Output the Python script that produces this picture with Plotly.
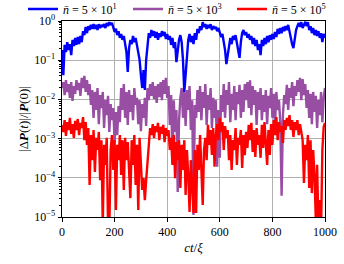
import numpy as np
import plotly.graph_objects as go

# sample times ct/xi (every 5 units, 0..1000)
t = np.linspace(0, 1000, 201)

# log10 of |dP(t)|/|P(0)|
blue_log10 = [-0.74,-1.38,-0.61,-0.79,-0.54,-0.74,-0.59,-0.87,-0.48,-0.64,
-0.43,-0.61,-0.41,-0.59,-0.38,-0.54,-0.26,-0.36,-0.15,-0.31,
-0.13,-0.23,-0.10,-0.20,-0.08,-0.20,-0.10,-0.23,-0.08,-0.18,
-0.10,-0.15,-0.08,-0.18,-0.05,-0.13,-0.03,-0.10,-0.05,-0.18,
-0.28,-0.20,-0.36,-0.26,-0.43,-0.33,-0.48,-0.38,-0.54,-0.79,
-1.30,-0.69,-0.48,-0.59,-0.38,-0.54,-0.43,-0.64,-0.74,-0.99,
-1.38,-1.71,-1.25,-1.76,-0.99,-0.61,-0.31,-0.43,-0.23,-0.38,
-0.26,-0.43,-0.28,-0.48,-0.31,-0.41,-0.26,-0.38,-0.28,-0.46,
-0.33,-0.48,-0.38,-0.61,-0.43,-0.69,-0.54,-1.05,-0.74,-0.48,
-0.36,-0.54,-0.99,-1.81,-1.38,-0.87,-0.48,-0.33,-0.54,-0.38,
-0.59,-0.31,-0.48,-0.20,-0.31,-0.13,-0.23,-0.03,-0.15,-0.08,
-0.20,-0.10,-0.18,-0.08,-0.23,-0.13,-0.20,-0.15,-0.26,-0.18,
-0.31,-0.41,-0.33,-0.54,-0.74,-1.10,-0.87,-0.61,-0.43,-0.59,
-0.38,-0.48,-0.36,-0.56,-0.74,-0.94,-0.54,-0.31,-0.23,-0.36,
-0.28,-0.43,-0.33,-0.48,-0.38,-0.59,-0.43,-0.64,-0.48,-0.74,
-0.59,-0.87,-0.48,-0.64,-0.43,-0.59,-0.38,-0.54,-0.36,-0.48,
-0.33,-0.46,-0.28,-0.41,-0.20,-0.33,-0.18,-0.31,-0.15,-0.26,
-0.13,-0.23,-0.10,-0.28,-0.43,-0.59,-0.69,-0.43,-0.23,-0.13,
-0.05,-0.15,-0.03,-0.18,-0.08,-0.02,-0.13,-0.03,-0.23,-0.13,
-0.31,-0.18,-0.36,-0.23,-0.38,-0.26,-0.43,-0.31,-0.54,-0.33,-0.43]

purple_log10 = [-1.71,-1.56,-1.89,-1.51,-1.81,-1.61,-1.96,-1.56,-2.04,-1.66,
-1.86,-1.51,-1.76,-1.58,-1.91,-1.45,-1.71,-1.40,-1.81,-1.51,
-1.89,-1.61,-2.14,-1.76,-2.47,-1.81,-2.27,-1.71,-2.63,-1.89,
-2.22,-1.81,-2.73,-2.02,-2.40,-1.91,-2.83,-2.12,-2.53,-2.22,
-3.09,-2.32,-2.91,-2.17,-2.58,-1.71,-2.27,-1.61,-2.47,-1.81,
-2.65,-1.76,-2.32,-1.89,-2.53,-1.71,-2.14,-1.96,-2.63,-2.02,
-2.81,-2.12,-2.47,-1.96,-2.68,-1.71,-2.02,-1.61,-1.91,-1.56,
-1.99,-1.66,-2.09,-1.61,-1.94,-1.56,-2.02,-1.51,-1.86,-1.45,
-1.96,-1.66,-2.65,-1.89,-3.62,-2.02,-2.83,-2.27,-4.36,-2.53,
-1.96,-1.71,-2.47,-1.81,-2.68,-1.76,-2.27,-1.66,-2.78,-2.02,
-4.95,-2.14,-2.47,-1.76,-2.32,-1.66,-2.53,-1.81,-2.22,-1.61,
-2.65,-1.89,-2.27,-1.71,-2.73,-1.96,-2.47,-2.02,-3.72,-2.27,
-3.49,-1.89,-2.32,-1.61,-2.47,-1.76,-2.14,-1.56,-2.58,-1.86,
-2.27,-1.66,-2.53,-1.81,-2.12,-1.63,-2.47,-1.76,-2.32,-1.61,
-2.02,-1.56,-2.22,-1.51,-2.40,-1.66,-2.14,-1.76,-2.65,-1.81,
-2.27,-1.71,-2.53,-1.89,-2.32,-1.76,-2.63,-1.91,-2.22,-1.71,
-2.47,-1.86,-2.65,-1.81,-2.27,-2.02,-2.58,-4.46,-2.40,-1.89,
-2.12,-1.63,-2.27,-1.71,-1.96,-1.56,-2.17,-1.66,-1.91,-1.51,
-1.81,-1.45,-2.02,-1.48,-1.89,-1.61,-2.22,-1.76,-2.47,-1.86,
-2.63,-1.81,-2.32,-1.91,-2.73,-2.02,-2.40,-1.81,-2.58,-1.96,-1.71]

red_log10 = [-2.65,-2.83,-2.53,-2.93,-2.58,-2.78,-2.47,-2.88,-2.63,-2.98,
-2.55,-2.78,-2.50,-2.91,-2.60,-2.73,-2.45,-3.04,-2.58,-3.16,
-2.73,-4.18,-2.91,-3.55,-2.78,-3.85,-2.98,-3.29,-2.83,-4.06,
-3.04,-5.20,-3.16,-3.67,-2.98,-5.20,-5.28,-3.29,-2.91,-3.80,
-3.04,-4.82,-3.16,-3.55,-2.91,-3.93,-3.04,-4.31,-2.98,-3.55,
-3.09,-4.06,-4.52,-3.04,-3.67,-2.91,-4.18,-3.16,-4.82,-2.98,
-3.80,-4.31,-4.01,-4.57,-4.06,-3.55,-3.04,-2.73,-2.91,-2.63,
-2.98,-2.68,-2.83,-2.60,-3.04,-2.70,-2.88,-2.65,-3.09,-2.73,
-2.93,-2.78,-3.29,-2.98,-3.67,-2.91,-4.01,-3.09,-3.55,-3.04,
-4.26,-3.16,-3.80,-3.04,-4.44,-3.29,-3.93,-4.87,-3.55,-4.18,
-4.90,-3.29,-4.90,-3.16,-3.80,-2.91,-4.06,-4.69,-3.29,-2.98,
-3.55,-2.65,-3.16,-2.78,-3.42,-2.73,-3.72,-2.91,-2.63,-3.04,
-2.47,-2.83,-2.58,-3.29,-2.68,-2.98,-2.78,-3.55,-2.91,-3.80,
-3.04,-3.29,-2.73,-3.67,-2.98,-3.16,-2.78,-3.75,-2.91,-3.42,
-2.83,-3.24,-2.65,-3.04,-2.60,-3.34,-2.78,-3.47,-2.73,-3.16,
-2.91,-3.49,-2.65,-3.24,-2.58,-3.04,-3.67,-2.78,-3.42,-2.63,
-3.16,-2.53,-2.91,-2.45,-3.04,-2.58,-2.83,-2.68,-3.11,-2.53,
-2.78,-2.47,-2.68,-2.40,-2.78,-2.53,-2.96,-2.58,-2.78,-2.53,
-2.91,-2.63,-2.83,-3.04,-4.13,-3.16,-3.55,-2.91,-4.26,-3.04,
-4.39,-3.29,-3.93,-5.05,-3.67,-5.20,-4.57,-5.33,-3.29,-2.70,-2.60]

names = ["<i>n\u0304</i> = 5 \u00d7 10<sup>1</sup>",
         "<i>n\u0304</i> = 5 \u00d7 10<sup>3</sup>",
         "<i>n\u0304</i> = 5 \u00d7 10<sup>5</sup>"]
colors = ["#0000ff", "#984ea3", "#ff0000"]
legend_ids = ["legend", "legend2", "legend3"]

x_ticks = [0, 200, 400, 600, 800, 1000]
y_tickvals = [1e-5, 1e-4, 1e-3, 1e-2, 1e-1, 1]
y_ticktext = ["10<sup>\u22125</sup>", "10<sup>\u22124</sup>", "10<sup>\u22123</sup>",
              "10<sup>\u22122</sup>", "10<sup>\u22121</sup>", "10<sup>0</sup>"]

FONT = "Liberation Serif"
PLOT_L, PLOT_R, PLOT_T, PLOT_B = 62, 325, 21, 217
W, H = 344, 264
pw, ph = PLOT_R - PLOT_L, PLOT_B - PLOT_T

fig = go.Figure()
for series, name, col, lg in zip([blue_log10, purple_log10, red_log10], names, colors, legend_ids):
    fig.add_trace(go.Scatter(x=t, y=10.0 ** np.array(series), mode="lines",
                             name=name, legend=lg, line=dict(color=col, width=2.4)))

# legend anchor positions (pixel left of each legend box)
leg_px = [23, 128, 232]
leg_common = dict(orientation="h", yanchor="middle", y=(PLOT_B - 9) / ph,
                  xanchor="left", font=dict(family=FONT, size=12),
                  bgcolor="rgba(0,0,0,0)", borderwidth=0, itemwidth=30)
legends = {}
for lg, px in zip(legend_ids, leg_px):
    legends[lg] = dict(leg_common, x=(px - PLOT_L) / pw)

fig.update_layout(
    width=W, height=H,
    margin=dict(l=PLOT_L, r=W - PLOT_R, t=PLOT_T, b=H - PLOT_B, autoexpand=False),
    paper_bgcolor="white", plot_bgcolor="white",
    font=dict(family=FONT, size=12, color="black"),
    showlegend=True,
    **legends,
)
fig.update_xaxes(range=[0, 1000], tickvals=x_ticks, ticks="outside", ticklen=3.5,
                 tickcolor="black", showline=True, linecolor="black", linewidth=1,
                 mirror=True, showgrid=True, gridcolor="#b0b0b0", gridwidth=1,
                 zeroline=False, automargin=False,
                 title=dict(text="<i>ct</i>/<i>\u03be</i>", standoff=4,
                            font=dict(family=FONT, size=13)),
                 tickfont=dict(family=FONT, size=12))
fig.update_yaxes(type="log", range=[-5, 0], tickvals=y_tickvals, ticktext=y_ticktext,
                 ticks="outside", ticklen=3.5, tickcolor="black", showline=True,
                 linecolor="black", linewidth=1, mirror=True, showgrid=True,
                 gridcolor="#b0b0b0", gridwidth=1, zeroline=False, automargin=False,
                 minor=dict(ticks="outside", ticklen=2, tickcolor="black", dtick="D1",
                            showgrid=False),
                 title=dict(text="|\u0394<b><i>P</i></b>(<i>t</i>)|/|<b><i>P</i></b>(0)|",
                            standoff=2, font=dict(family=FONT, size=13)),
                 tickfont=dict(family=FONT, size=12))

fig.write_html("out.html", config={"displayModeBar": False},
               post_script="document.body.style.margin='0';document.body.style.overflow='hidden';")
